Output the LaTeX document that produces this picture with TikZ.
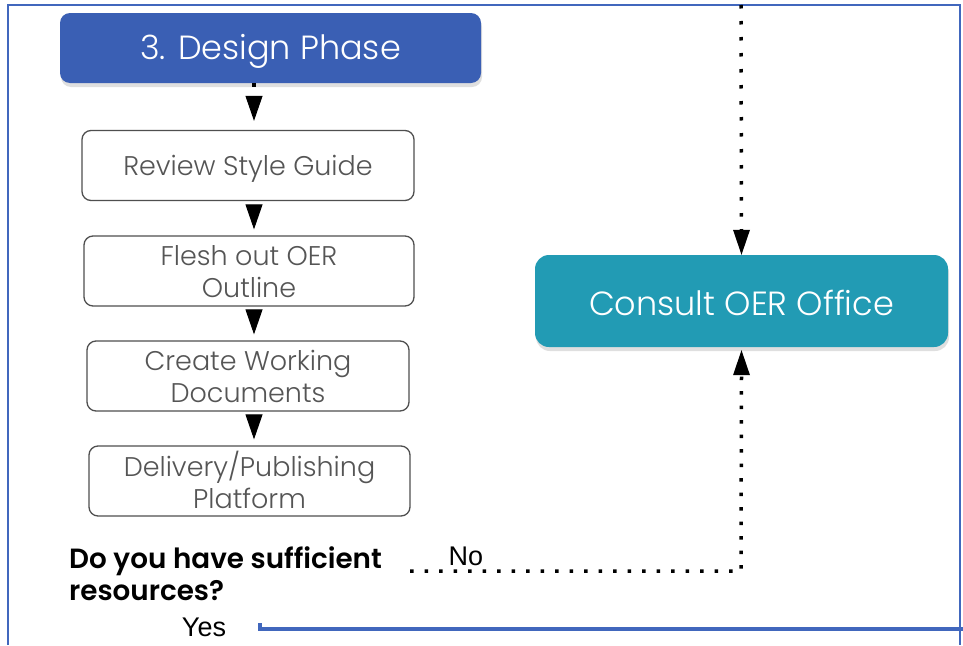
\documentclass[tikz,border=0pt]{standalone}
\usepackage{fontspec}
\setmainfont{Poppins}[UprightFont={* Light},BoldFont={* SemiBold}]
\newfontfamily\arialfont{Liberation Sans}
\usetikzlibrary{arrows.meta,shadows}
\definecolor{designblue}{HTML}{3A5FB4}
\definecolor{consultteal}{HTML}{229BB4}
\definecolor{frameblue}{HTML}{4167BD}
\definecolor{boxgray}{HTML}{4F4F4F}
\definecolor{textgray}{HTML}{555555}
\begin{document}
\begin{tikzpicture}[x=1pt,y=-1pt,
  stepbox/.style={draw=boxgray,line width=1.3pt,rounded corners=9pt,fill=white,
    minimum height=70pt,inner sep=0pt},
  steptext/.style={inner sep=0pt,align=center,text=textgray,
    font=\fontsize{27}{32}\selectfont},
  bigbox/.style={rounded corners=10pt,inner sep=0pt,
    drop shadow={opacity=0.25,shadow xshift=1pt,shadow yshift=-4pt}},
  bigtext/.style={inner sep=0pt,text=white,font=\fontsize{33.5}{38}\selectfont},
  arr/.style={line width=1pt,-{Triangle[width=17pt,length=25pt]}},
  dotline/.style={line width=3.5pt,line cap=butt,dash pattern=on 3.5pt off 11pt},
  frame/.style={draw=frameblue,line width=2pt},
  answer/.style={font=\arialfont\fontsize{27}{30}\selectfont,inner sep=0pt}]
\useasboundingbox (0,0) rectangle (963,645);
\fill[white] (0,0) rectangle (963,645);
% frame
\draw[frame] (8,645) -- (8,5) -- (960,5) -- (960,645);
\draw[frame,line width=4pt] (260,623) -- (260,629) -- (963,629);
% boxes
\node[bigbox,fill=designblue,minimum width=421pt,minimum height=70pt] (design) at (270.5,48) {};
\node[stepbox,minimum width=332pt] (review) at (248,165.5) {};
\node[stepbox,minimum width=330pt] (flesh) at (249,271) {};
\node[stepbox,minimum width=322pt] (create) at (248,376) {};
\node[stepbox,minimum width=321pt] (deliver) at (249.5,481) {};
\node[bigbox,fill=consultteal,minimum width=413pt,minimum height=92pt,
  rounded corners=14pt] (consult) at (741.5,301) {};
% texts
\node[bigtext] (design-t) at ([yshift=-3pt]design.center) {3. Design Phase};
\node[bigtext] (consult-t) at ([yshift=-2pt]consult.center) {Consult OER Office};
\node[steptext] (review-t) at ([yshift=-3pt]review.center) {Review Style Guide};
\node[steptext] (flesh-t) at ([yshift=-1pt]flesh.center) {Flesh out OER\\Outline};
\node[steptext] (create-t) at ([yshift=0pt]create.center) {Create Working\\Documents};
\node[steptext] (deliver-t) at ([yshift=1.5pt]deliver.center) {Delivery/Publishing\\Platform};
\node[anchor=north west,inner sep=0pt,align=left,font=\bfseries\fontsize{27.8}{32}\selectfont]
  (question) at (69,546) {Do you have sufficient\\resources?};
\node[answer] (no) at (466,556) {No};
\node[answer] (yes) at (204,627) {Yes};
% connectors
\coordinate (col) at (254,0);
\coordinate (top) at (741,5);
\coordinate (nostart) at (410,571);
\coordinate (corner) at (741,571);
\draw[dotline] (design.south -| col) -- ++(0,3.5);
\draw[arr,shorten >=9pt,shorten <=13pt] (design.south -| col) -- (review.north -| col);
\draw[arr,shorten >=6pt,shorten <=4pt] (review.south -| col) -- (flesh.north -| col);
\draw[arr,shorten >=6pt,shorten <=4pt] (flesh.south -| col) -- (create.north -| col);
\draw[arr,shorten >=6pt,shorten <=4pt] (create.south -| col) -- (deliver.north -| col);
\draw[dotline,dash pattern=on 3.5pt off 12.5pt] (top) -- ([yshift=20pt]consult.north);
\fill (consult.north) -- ++(-8.5,-25) -- ++(17,0) -- cycle;
\draw[dotline] (nostart) -- (corner) -- ([yshift=-27pt]consult.south);
\fill ([yshift=-3pt]consult.south) -- ++(-8.5,25) -- ++(17,0) -- cycle;
\end{tikzpicture}
\end{document}
